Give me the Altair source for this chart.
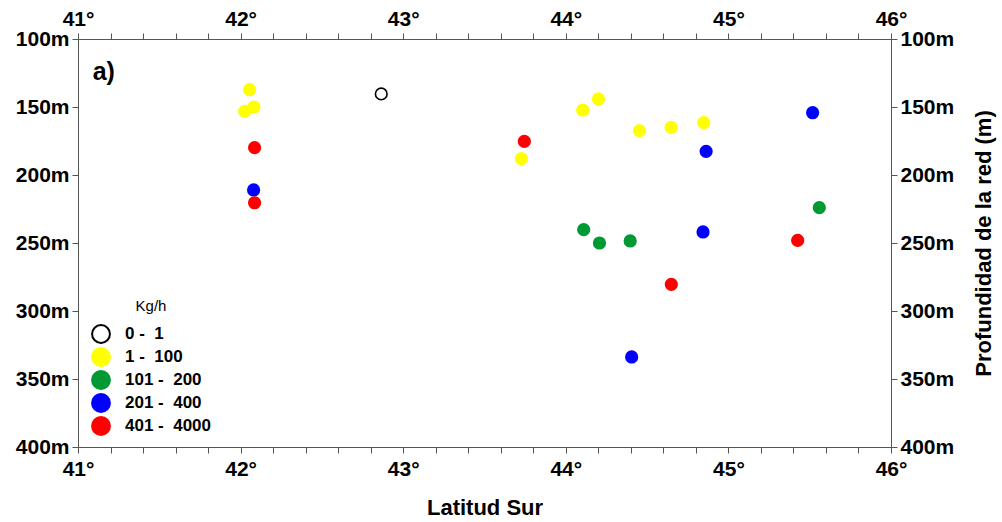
import altair as alt
import pandas as pd

# ---- data ----
latitud = [42.055, 42.082, 42.025, 42.086, 42.080, 42.086, 42.865, 43.745, 43.727,
           44.104, 44.201, 44.453, 44.648, 44.848, 44.863, 45.518, 44.110, 44.207,
           44.396, 44.844, 45.559, 45.426, 44.649, 44.405]
profundidad = [137.3, 150.0, 153.2, 179.9, 211.0, 220.4, 140.4, 175.3, 188.0,
               152.2, 144.1, 167.4, 165.0, 161.5, 182.6, 154.2, 240.2, 250.0,
               248.5, 241.9, 224.0, 248.1, 280.4, 333.8]
clase_idx = [1, 1, 1, 4, 3, 4, 0, 4, 1, 1, 1, 1, 1, 1, 3, 3, 2, 2, 2, 3, 2, 4, 4, 3]

clases = ["0 -\u00a0\u00a01", "1 -\u00a0\u00a0100", "101 -\u00a0\u00a0200",
          "201 -\u00a0\u00a0400", "401 -\u00a0\u00a04000"]
fill_colors = ["#ffffff", "#ffff00", "#009933", "#0000ff", "#ff0000"]
stroke_colors = ["#000000", "#ffff00", "#009933", "#0000ff", "#ff0000"]

x_ticks = [41, 41.2, 41.4, 41.6, 41.8, 42, 42.2, 42.4, 42.6, 42.8, 43, 43.2, 43.4,
           43.6, 43.8, 44, 44.2, 44.4, 44.6, 44.8, 45, 45.2, 45.4, 45.6, 45.8, 46]
y_ticks = [100, 150, 200, 250, 300, 350, 400]

df = pd.DataFrame({
    "lat": latitud,
    "prof": profundidad,
    "clase": [clases[i] for i in clase_idx],
})

FONT = "Liberation Sans"
x_label_expr = "abs(datum.value - round(datum.value)) < 0.01 ? format(round(datum.value), 'd') + '°' : ''"
y_label_expr = "datum.value + 'm'"

xscale = alt.Scale(domain=[41, 46], nice=False, zero=False)
yscale = alt.Scale(domain=[100, 400], nice=False, zero=False, reverse=True)

common_axis = dict(
    grid=False, domainColor="#555555", tickColor="#555555", tickSize=6,
    labelFont=FONT, labelFontWeight="bold", labelFontSize=21, labelColor="#000000",
    titleFont=FONT, titleFontWeight="bold", titleFontSize=22, titleColor="#000000",
    labelFlush=False, labelOverlap=False,
)

legend = alt.Legend(
    title="Kg/h", orient="none", legendX=13, legendY=260, padding=0,
    titleFont=FONT, titleFontWeight="normal", titleFontSize=15, titleColor="#000000",
    titleAnchor="middle", titlePadding=10,
    labelFont=FONT, labelFontWeight="bold", labelFontSize=17, labelColor="#000000",
    labelOffset=14, symbolSize=320, symbolStrokeWidth=2, rowPadding=-5,
    symbolType="circle",
)

base = alt.Chart(df)

points = base.mark_circle(size=135, opacity=1, strokeWidth=1.6).encode(
    x=alt.X("lat:Q", scale=xscale,
            axis=alt.Axis(orient="bottom", title="Latitud Sur", values=x_ticks,
                          labelExpr=x_label_expr, labelPadding=5, titlePadding=18,
                          **common_axis)),
    y=alt.Y("prof:Q", scale=yscale,
            axis=alt.Axis(orient="left", title=None, values=y_ticks,
                          labelExpr=y_label_expr, labelPadding=3, **common_axis)),
    fill=alt.Fill("clase:N", scale=alt.Scale(domain=clases, range=fill_colors), legend=legend),
    stroke=alt.Stroke("clase:N", scale=alt.Scale(domain=clases, range=stroke_colors), legend=legend),
)

axes2 = base.mark_point(opacity=0).encode(
    x=alt.X("lat:Q", scale=xscale,
            axis=alt.Axis(orient="top", title=None, values=x_ticks,
                          labelExpr=x_label_expr, labelPadding=4, **common_axis)),
    y=alt.Y("prof:Q", scale=yscale,
            axis=alt.Axis(orient="right", title="Profundidad de la red (m)", values=y_ticks,
                          labelExpr=y_label_expr, labelPadding=3, titleAngle=270,
                          titleBaseline="top", titlePadding=20, **common_axis)),
)

label_df = pd.DataFrame({"lat": [41.09], "prof": [124.0], "txt": ["a)"]})
label = alt.Chart(label_df).mark_text(
    align="left", baseline="middle", font=FONT, fontWeight="bold", fontSize=25, color="#000000"
).encode(
    x=alt.X("lat:Q", scale=xscale, axis=None),
    y=alt.Y("prof:Q", scale=yscale, axis=None),
    text="txt:N",
)

chart = alt.layer(points, axes2, label).resolve_axis(
    x="independent", y="independent"
).properties(
    width=813, height=408,
    autosize=alt.AutoSizeParams(type="none"),
    padding={"left": 78, "top": 39, "right": 111, "bottom": 75},
    background="#ffffff",
).configure_view(stroke=None)

chart.save("out.html", embed_options={"renderer": "svg", "actions": False})
